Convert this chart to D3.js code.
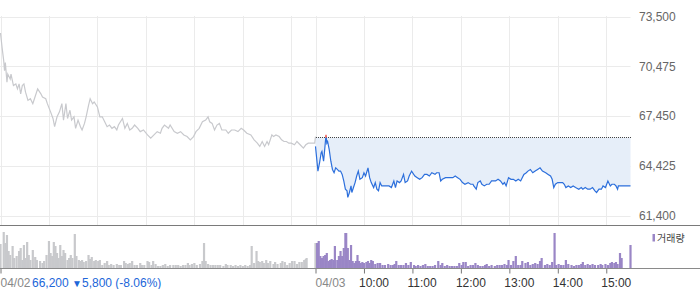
<!DOCTYPE html>
<html lang="ko">
<head>
<meta charset="UTF-8">
<title>04/02 - 04/03 price chart</title>
<script src="https://d3js.org/d3.v7.min.js"></script>
<style>
  body { margin: 0; background: #fff; }
  svg { display: block; font-family: "Liberation Sans", Arial, "Noto Sans CJK KR", sans-serif; }
  .grid line { stroke: #ebebeb; stroke-width: 1; }
  .yaxis text { font-size: 12px; fill: #666; }
  .xlab { font-size: 12px; }
</style>
</head>
<body>
<script>
// minutes after 09:00 for each day, prices in won
const day1Min = [0,2,4,5,6,8,9,12,13,16,19,21,23,25,27,29,31,34,37,40,42,46,50,52,56,58,62,65,67,70,73,76,78,81,83,86,88,91,93,96,99,101,104,106,109,111,114,116,120,123,126,129,132,135,138,141,144,146,151,154,157,160,163,166,170,173,177,182,186,190,194,198,200,203,208,210,215,219,223,227,231,235,239,242,246,250,254,257,259,262,265,268,271,274,279,282,286,290,294,298,301,305,310,314,318,321,324,327,330,332,336,338,341,345,348,351,354,357,360,364,367,371,375,378,381,386,389,390];
const day1Price = [72500,71600,70800,70200,70700,69500,70000,69700,70000,69300,69400,69100,69400,68800,69300,69400,68900,68400,68500,68200,68500,69100,68800,68600,68500,68200,67700,67300,66800,67400,67700,68200,67200,68200,67300,67800,67200,67400,66700,67200,66800,66600,67000,67400,68100,68500,68200,68300,68000,67400,67400,67100,66800,66900,66700,66800,66600,66900,67300,66700,67000,66600,66700,66900,66700,66500,66600,66300,66100,66300,66500,66400,66700,66900,66700,66900,66500,66400,66500,66300,66200,66000,66200,66500,66700,67100,67200,67400,67100,67000,66600,66900,67000,66600,66600,66400,66600,66600,66500,66700,66600,66400,66300,66000,65800,65600,65900,65600,65900,65700,66300,66200,66300,66200,66000,65900,65900,65800,65800,65700,65900,65700,65500,65700,65800,65800,65800,66200];

const day2Min = [0,3,5,7,8,10,11,13,14,15,17,19,21,23,25,27,29,31,33,35,37,39,40,42,44,45,47,49,51,53,55,58,60,62,65,67,69,72,74,76,78,80,82,86,89,91,94,97,99,101,104,106,109,111,114,116,119,123,126,129,132,135,138,141,144,148,150,153,155,157,161,164,167,170,173,176,179,182,185,189,192,195,196,199,201,204,206,209,212,215,218,221,223,226,229,232,234,236,239,242,245,248,251,254,258,261,263,266,269,272,275,278,281,285,288,291,293,295,297,300,303,306,308,310,313,316,319,322,326,329,331,334,337,340,343,346,348,351,354,356,359,362,365,367,370,372,374,375,379,383,390];
const day2Price = [65600,64100,64600,65200,65300,64700,65200,66300,65800,65900,65400,64700,64200,64000,64300,64200,64100,64100,63900,63500,63000,62900,62500,62800,63200,62800,63100,63400,63800,64100,63600,63700,64000,63800,64300,63700,63400,63100,63400,63000,62900,63400,63200,63200,63200,63200,63100,63500,63100,63500,63400,63500,63900,63400,63500,63800,64100,63800,63700,63600,63700,63900,63900,63800,64000,63900,64000,64000,63500,63600,63700,63700,63700,63700,63800,63700,63600,63400,63300,63400,63300,63300,63200,63000,63400,63500,63300,63200,63300,63300,63500,63500,63500,63600,63500,63300,63400,63200,63700,63600,63600,63500,63600,63500,63900,64000,64100,64200,64000,64100,64200,64300,64100,64000,63900,63800,63600,63100,63300,63400,63400,63400,63300,63100,63200,63100,63200,63100,63000,63100,63000,63100,63000,63000,63100,62900,62800,63000,63000,63200,63100,63500,63200,63300,63300,63200,63000,63200,63200,63200,63200];

const prevClose = 66200;

// volume, thousand shares
const day1VolMin = [0,4,6,8,10,12,15,17,20,23,25,27,29,31,33,35,37,40,43,45,49,52,54,57,60,62,64,66,68,70,72,74,76,78,80,83,85,87,89,92,94,97,99,101,103,106,109,111,113,116,118,121,123,126,129,132,134,137,140,144,147,149,153,155,158,160,163,166,169,173,175,178,182,184,187,189,192,195,198,201,204,207,210,214,217,220,223,226,229,232,234,237,240,243,247,250,252,254,257,260,263,266,269,272,276,279,281,285,288,291,294,297,300,303,306,309,311,314,317,319,321,324,326,329,331,334,338,340,343,347,349,352,355,358,361,364,367,370,373,376,378,379,390];
const day1Vol = [120,180,125,165,85,65,110,50,60,85,100,40,115,50,130,65,40,90,55,40,35,25,35,65,135,75,60,130,110,75,50,115,60,90,75,40,50,65,50,170,60,40,35,40,30,35,65,45,55,35,40,35,40,15,25,35,15,20,15,20,15,15,35,25,20,25,35,15,15,25,15,15,35,30,15,35,20,10,10,15,20,10,15,15,15,15,10,15,15,25,15,20,25,15,20,35,125,35,20,15,15,15,15,15,10,20,15,15,10,15,10,15,10,15,10,15,110,25,85,35,30,35,25,40,25,35,20,30,20,25,35,30,15,25,35,35,20,30,30,40,45,50,125];

const day2VolMin = [2,4,6,8,10,12,14,16,18,20,22,24,27,29,31,33,35,37,38,40,42,44,46,48,50,52,54,56,58,60,63,65,67,69,71,74,77,80,83,86,90,93,96,98,100,103,106,109,112,115,118,122,124,127,130,133,136,139,142,145,148,152,155,157,160,163,166,169,172,175,178,181,183,186,189,192,195,198,201,204,207,210,212,215,218,222,225,228,231,234,237,239,242,245,248,251,254,256,260,263,266,269,272,275,278,280,284,287,290,293,296,298,301,304,307,310,313,317,320,323,326,329,331,334,337,340,343,346,350,353,355,359,362,365,367,370,372,374,377,379,390];
const day2Vol = [125,135,60,50,60,65,75,35,40,45,40,110,40,60,85,60,100,175,175,100,40,115,35,25,35,65,35,25,30,25,30,35,25,40,35,20,25,25,15,15,20,15,15,20,35,15,15,15,25,15,30,15,10,15,10,15,20,10,10,10,15,35,15,25,10,15,10,10,10,10,25,15,30,30,10,15,15,25,15,10,10,15,20,10,15,10,15,15,15,20,15,40,15,35,60,15,15,35,25,30,15,20,25,20,35,50,15,20,15,30,175,15,20,15,15,40,20,15,10,15,15,20,30,15,20,15,20,15,15,20,15,20,15,25,30,25,30,20,75,50,115];

const yTicks = [61400, 64425, 67450, 70475, 73500];
const hourTicks = [450, 510, 570, 630, 690, 750];
const hourLabels = ["10:00", "11:00", "12:00", "13:00", "14:00", "15:00"];
const dayTicks = [0, 390];
const dayLabels = ["04/02", "04/03"];
const day1Summary = ["66,200", "▼", "5,800 (-8.06%)"];

const width = 700, height = 289;
const plotRight = 630.5;

const svg = d3.select("body").append("svg")
  .attr("width", width).attr("height", height);

const x = d3.scaleLinear().domain([0, 780]).range([0.5, plotRight]);
const y = d3.scaleLinear().domain([61400, 73500]).range([215.5, 16.5]);
const yv = d3.scaleLinear().domain([0, 185]).range([268, 231]);

const day1 = day1Min.map((m, i) => ({ t: m, p: day1Price[i] }));
const day2 = day2Min.map((m, i) => ({ t: 390 + m, p: day2Price[i] }));

// grid
const grid = svg.append("g").attr("class", "grid");
grid.selectAll(".h").data(yTicks).enter().append("line")
  .attr("x1", 0).attr("x2", plotRight)
  .attr("y1", d => Math.round(y(d)) + 0.5).attr("y2", d => Math.round(y(d)) + 0.5);
grid.selectAll(".v").data(d3.range(0, 7).map(d => d * 60).concat(d3.range(0, 7).map(d => 390 + d * 60)))
  .enter().append("line")
  .attr("x1", d => Math.round(x(d)) + 0.5).attr("x2", d => Math.round(x(d)) + 0.5)
  .attr("y1", 16).attr("y2", 225);

// fill between price and previous close
const yPrev = Math.round(y(prevClose)) + 0.5;
const area = d3.area().x(d => x(d.t)).y0(yPrev).y1(d => y(d.p));
svg.append("path").datum(day2)
  .attr("d", area).attr("fill", "#e6eef9");

const line = d3.line().x(d => x(d.t)).y(d => y(d.p));

svg.append("path").datum(day1)
  .attr("d", line).attr("fill", "none")
  .attr("stroke", "#c8c9cd").attr("stroke-width", 1.2);

// previous close dotted line
svg.append("line")
  .attr("x1", Math.round(x(390))).attr("x2", Math.round(plotRight))
  .attr("y1", yPrev).attr("y2", yPrev)
  .attr("stroke", "#444").attr("stroke-dasharray", "1,1");

const defs = svg.append("defs");
defs.append("clipPath").attr("id", "below").append("rect")
  .attr("x", 0).attr("y", yPrev).attr("width", width).attr("height", 225 - yPrev);
defs.append("clipPath").attr("id", "above").append("rect")
  .attr("x", 0).attr("y", 0).attr("width", width).attr("height", yPrev);

svg.append("path").datum(day2)
  .attr("d", line).attr("fill", "none").attr("clip-path", "url(#below)")
  .attr("stroke", "#2c6fdc").attr("stroke-width", 1.2);
svg.append("path").datum(day2)
  .attr("d", line).attr("fill", "none").attr("clip-path", "url(#above)")
  .attr("stroke", "#f0463c").attr("stroke-width", 1.2);

// separator between panels
svg.append("line").attr("x1", 0).attr("x2", width).attr("y1", 225.5).attr("y2", 225.5)
  .attr("stroke", "#7a7a7a");

// volume bars
svg.append("g").selectAll("rect")
  .data(day1VolMin.map((m, i) => ({ t: m, v: day1Vol[i] })))
  .enter().append("rect")
  .attr("x", d => x(d.t) - 1.1).attr("width", 2.2)
  .attr("y", d => yv(d.v)).attr("height", d => yv(0) - yv(d.v))
  .attr("fill", "#c8c9cc");
svg.append("g").selectAll("rect")
  .data(day2VolMin.map((m, i) => ({ t: 390 + m, v: day2Vol[i] })))
  .enter().append("rect")
  .attr("x", d => x(d.t) - 1.1).attr("width", 2.2)
  .attr("y", d => yv(d.v)).attr("height", d => yv(0) - yv(d.v))
  .attr("fill", "#9a86c6");

// bottom axis
const xAxis = d3.axisBottom(x).tickValues(dayTicks.concat(hourTicks)).tickSize(5).tickFormat("");
const gx = svg.append("g").attr("transform", "translate(0,268.5)").call(xAxis);
gx.select(".domain").remove();
gx.selectAll(".tick line").attr("stroke", "#777");
svg.append("line").attr("x1", 0).attr("x2", width).attr("y1", 268.5).attr("y2", 268.5)
  .attr("stroke", "#8a8a8a");

svg.selectAll(".daylab").data(dayTicks).enter().append("text")
  .attr("class", "xlab").attr("x", d => x(d)).attr("y", 286.5)
  .attr("fill", "#888").text((d, i) => dayLabels[i]);
svg.selectAll(".hourlab").data(hourTicks).enter().append("text")
  .attr("class", "xlab").attr("x", d => x(d) - 5).attr("y", 286.5)
  .attr("fill", "#333").text((d, i) => hourLabels[i]);

const summary = svg.append("text").attr("class", "xlab").attr("x", 32).attr("y", 286.5)
  .attr("fill", "#2166d9");
summary.append("tspan").text(day1Summary[0] + " ");
summary.append("tspan").attr("font-size", "10px").text(day1Summary[1]);
summary.append("tspan").text(day1Summary[2]);

// right price axis
const yAxis = d3.axisRight(y).tickValues(yTicks).tickSize(0).tickPadding(0)
  .tickFormat(d3.format(","));
const gy = svg.append("g").attr("class", "yaxis").attr("transform", "translate(639,0)").call(yAxis);
gy.select(".domain").remove();

// legend
svg.append("rect").attr("x", 652.5).attr("y", 234).attr("width", 2.5).attr("height", 7.5)
  .attr("fill", "#9a86c6");
svg.append("text").attr("x", 657).attr("y", 241.5).attr("font-size", "10px")
  .attr("fill", "#444").text("거래량");
</script>
</body>
</html>
